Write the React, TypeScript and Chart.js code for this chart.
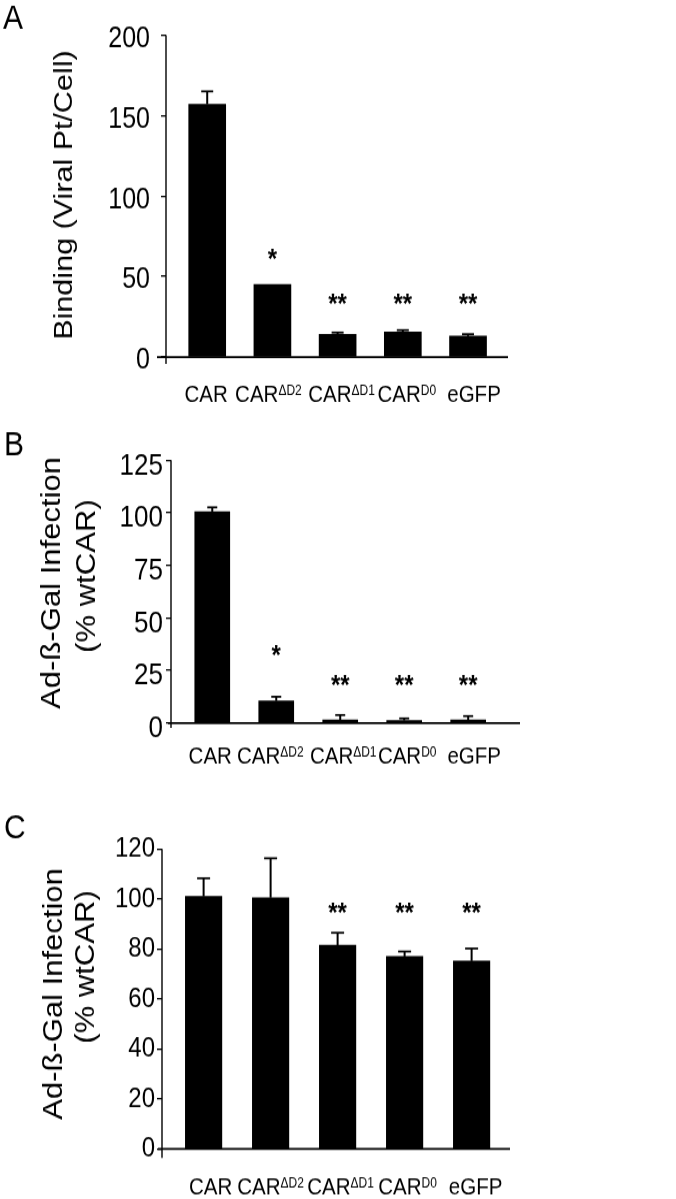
import React, { useEffect, useRef } from "react";
import { Chart, registerables } from "chart.js";

Chart.register(...registerables);

// ---------- data ----------
const categoryBase = ["CAR", "CAR", "CAR", "CAR", "eGFP"];
const categorySup = ["", "ΔD2", "ΔD1", "D0", ""];

const bindingValues = [157, 45, 14, 15.5, 13];
const bindingErrors = [8, 0, 1.2, 1.2, 1.2];
const bindingStars = ["", "*", "**", "**", "**"];
const bindingTicks = [0, 50, 100, 150, 200];

const infectionValues = [100.5, 10.5, 1.4, 1.2, 1.4];
const infectionErrors = [2, 2, 2.4, 1, 1.9];
const infectionStars = ["", "*", "**", "**", "**"];
const infectionTicks = [0, 25, 50, 75, 100, 125];

const controlValues = [101, 100.5, 81.5, 77, 75.2];
const controlErrors = [7.3, 15.8, 5, 2, 5];
const controlStars = ["", "", "**", "**", "**"];
const controlTicks = [0, 20, 40, 60, 80, 100, 120];

// ---------- layout ----------
const STRETCH = 1.15;
const PAGE_W = 676;
const FONT = '"Liberation Sans", Arial, Helvetica, sans-serif';

type TitleLine = { text: string; x: number; y: number };
type Panel = {
  letter: string;
  top: number;
  height: number;
  values: number[];
  errors: number[];
  stars: string[];
  ticks: number[];
  titleLines: TitleLine[];
  titleFont: number;
  axisX: number;
  axisRight: number;
  plotTop: number;
  plotBottom: number;
  xMin: number;
  xMax: number;
  barW: number;
  cap: number;
  tickFont: number;
  tickRight: number;
  tickShift: number;
  xExt: number;
  yExt: number;
  labelY: number;
  labelFont: number;
  labelNudge: number[];
  starFont: number;
  singleStarAt: number;
  doubleStarAt: number;
  letterX: number;
  letterTop: number;
  letterFont: number;
};

const panels: Panel[] = [
  {
    letter: "A",
    top: 0,
    height: 418,
    values: bindingValues,
    errors: bindingErrors,
    stars: bindingStars,
    ticks: bindingTicks,
    titleLines: [{ text: "Binding (Viral Pt/Cell)", x: 65, y: 195 }],
    titleFont: 26.5,
    axisX: 166,
    axisRight: 508,
    plotTop: 35,
    plotBottom: 357,
    xMin: -0.632,
    xMax: 4.613,
    barW: 37,
    cap: 12,
    tickFont: 25,
    tickRight: 150,
    tickShift: 4,
    xExt: 9,
    yExt: 7,
    labelY: 394,
    labelFont: 20.5,
    labelNudge: [-1, -4, 4, 4, 6],
    starFont: 24,
    singleStarAt: 65,
    doubleStarAt: 37,
    letterX: 3,
    letterTop: 4,
    letterFont: 30,
  },
  {
    letter: "B",
    top: 400,
    height: 390,
    values: infectionValues,
    errors: infectionErrors,
    stars: infectionStars,
    ticks: infectionTicks,
    titleLines: [
      { text: "Ad-ß-Gal Infection", x: 53, y: 183 },
      { text: "(% wtCAR)", x: 88, y: 176 },
    ],
    titleFont: 27,
    axisX: 171,
    axisRight: 520,
    plotTop: 60,
    plotBottom: 323,
    xMin: -0.645,
    xMax: 4.81,
    barW: 35,
    cap: 10,
    tickFont: 26,
    tickRight: 163,
    tickShift: 6,
    xExt: 3,
    yExt: 5,
    labelY: 355,
    labelFont: 20.5,
    labelNudge: [-2, -6, 3, 3, 6],
    starFont: 24,
    singleStarAt: 35.6,
    doubleStarAt: 21.4,
    letterX: 4,
    letterTop: 31,
    letterFont: 30,
  },
  {
    letter: "C",
    top: 790,
    height: 409,
    values: controlValues,
    errors: controlErrors,
    stars: controlStars,
    ticks: controlTicks,
    titleLines: [
      { text: "Ad-ß-Gal Infection", x: 55, y: 204 },
      { text: "(% wtCAR)", x: 87, y: 177 },
    ],
    titleFont: 27,
    axisX: 162,
    axisRight: 510,
    plotTop: 59,
    plotBottom: 359,
    xMin: -0.621,
    xMax: 4.573,
    barW: 36.5,
    cap: 13,
    tickFont: 24,
    tickRight: 155,
    tickShift: 0,
    xExt: 4,
    yExt: 9,
    labelY: 396,
    labelFont: 20.5,
    labelNudge: [7, 0, 3, 3, 4],
    starFont: 24,
    singleStarAt: 97,
    doubleStarAt: 97,
    letterX: 4,
    letterTop: 24,
    letterFont: 30,
  },
];

function overlay(p: Panel) {
  return {
    id: "overlay" + p.letter,
    afterDraw(chart: any) {
      const ctx = chart.ctx as CanvasRenderingContext2D;
      const k = p.height / chart.height;
      const { left, right, top, bottom } = chart.chartArea;
      const xs = chart.scales.x;
      const ys = chart.scales.y;
      ctx.save();
      ctx.fillStyle = "#000";
      ctx.strokeStyle = "#000";

      // axes
      ctx.lineWidth = 1.4;
      ctx.beginPath();
      ctx.moveTo(left, top);
      ctx.lineTo(left, bottom + p.yExt / k);
      ctx.stroke();
      ctx.lineWidth = 2 / k;
      ctx.beginPath();
      ctx.moveTo(left - p.xExt, bottom);
      ctx.lineTo(right, bottom);
      ctx.stroke();

      // error bars (upper)
      p.values.forEach((v, i) => {
        const e = p.errors[i];
        if (!e) return;
        const cx = xs.getPixelForValue(i);
        const y0 = ys.getPixelForValue(v);
        const y1 = ys.getPixelForValue(v + e);
        ctx.lineWidth = 2;
        ctx.beginPath();
        ctx.moveTo(cx, y0);
        ctx.lineTo(cx, y1);
        ctx.stroke();
        ctx.lineWidth = 2 / k;
        ctx.beginPath();
        ctx.moveTo(cx - p.cap / 2, y1);
        ctx.lineTo(cx + p.cap / 2, y1);
        ctx.stroke();
      });

      // significance stars
      ctx.font = `bold ${p.starFont}px ${FONT}`;
      ctx.textAlign = "center";
      ctx.textBaseline = "alphabetic";
      p.stars.forEach((s, i) => {
        if (!s) return;
        const level = s.length === 1 ? p.singleStarAt : p.doubleStarAt;
        ctx.fillText(s, xs.getPixelForValue(i), ys.getPixelForValue(level) + 0.58 * p.starFont);
      });

      // category labels with superscripts
      const supF = Math.round(p.labelFont * 0.6);
      const baseY = p.labelY / k + 0.358 * p.labelFont;
      ctx.textAlign = "left";
      categoryBase.forEach((b, i) => {
        ctx.font = `${p.labelFont}px ${FONT}`;
        const wb = ctx.measureText(b).width;
        const sup = categorySup[i];
        ctx.font = `${supF}px ${FONT}`;
        const ws = sup ? ctx.measureText(sup).width : 0;
        const x0 = xs.getPixelForValue(i) + p.labelNudge[i] - (wb + ws) / 2;
        ctx.font = `${p.labelFont}px ${FONT}`;
        ctx.fillText(b, x0, baseY);
        if (sup) {
          ctx.font = `${supF}px ${FONT}`;
          ctx.fillText(sup, x0 + wb, baseY - 0.3 * p.labelFont);
        }
      });

      // y titles (rotated)
      ctx.font = `${p.titleFont}px ${FONT}`;
      ctx.textAlign = "center";
      ctx.textBaseline = "middle";
      p.titleLines.forEach((t) => {
        ctx.save();
        ctx.translate(t.x, t.y / k);
        ctx.rotate(-Math.PI / 2);
        ctx.fillText(t.text, 0, 0);
        ctx.restore();
      });

      // panel letter
      ctx.font = `${p.letterFont}px ${FONT}`;
      ctx.textAlign = "left";
      ctx.textBaseline = "alphabetic";
      ctx.fillText(p.letter, p.letterX, p.letterTop / k + 0.716 * p.letterFont);
      ctx.restore();
    },
  };
}

function PanelChart({ p }: { p: Panel }) {
  const ref = useRef<HTMLCanvasElement | null>(null);
  const internalH = Math.round(p.height / STRETCH);
  useEffect(() => {
    if (!ref.current) return;
    const k = p.height / internalH;
    const chart = new Chart(ref.current, {
      type: "bar",
      data: {
        datasets: [
          {
            data: p.values.map((v, i) => ({ x: i, y: v })) as any,
            backgroundColor: "#000",
            borderWidth: 0,
            barThickness: p.barW,
          },
        ],
      },
      options: {
        animation: false,
        responsive: false,
        events: [],
        layout: {
          padding: {
            left: 0,
            right: PAGE_W - p.axisRight,
            top: p.plotTop / k,
            bottom: (p.height - p.plotBottom) / k,
          },
        },
        plugins: {
          legend: { display: false },
          tooltip: { enabled: false },
          title: { display: false },
        },
        scales: {
          x: {
            type: "linear",
            min: p.xMin,
            max: p.xMax,
            offset: false,
            grace: 0,
            display: false,
          },
          y: {
            type: "linear",
            min: p.ticks[0],
            max: p.ticks[p.ticks.length - 1],
            afterBuildTicks: (s: any) => {
              s.ticks = p.ticks.map((v) => ({ value: v }));
            },
            afterFit: (s: any) => {
              s.width = p.axisX;
            },
            ticks: {
              color: "#000",
              font: { family: FONT, size: p.tickFont },
              padding: p.axisX - 5 - p.tickRight,
              labelOffset: p.tickShift / k,
            },
            grid: {
              drawOnChartArea: false,
              drawTicks: true,
              tickLength: 5,
              color: "#000",
              lineWidth: 1.3,
            },
            border: { display: false },
          },
        },
      } as any,
      plugins: [overlay(p)],
    });
    return () => chart.destroy();
  }, [p, internalH]);
  return (
    <canvas
      ref={ref}
      width={PAGE_W}
      height={internalH}
      style={{
        position: "absolute",
        left: 0,
        top: p.top,
        width: PAGE_W,
        height: p.height,
        display: "block",
      }}
    />
  );
}

export default function App() {
  return (
    <div
      style={{
        position: "absolute",
        left: 0,
        top: 0,
        width: PAGE_W,
        height: 1199,
        background: "#fff",
        overflow: "hidden",
      }}
    >
      {panels.map((p) => (
        <PanelChart key={p.letter} p={p} />
      ))}
    </div>
  );
}
